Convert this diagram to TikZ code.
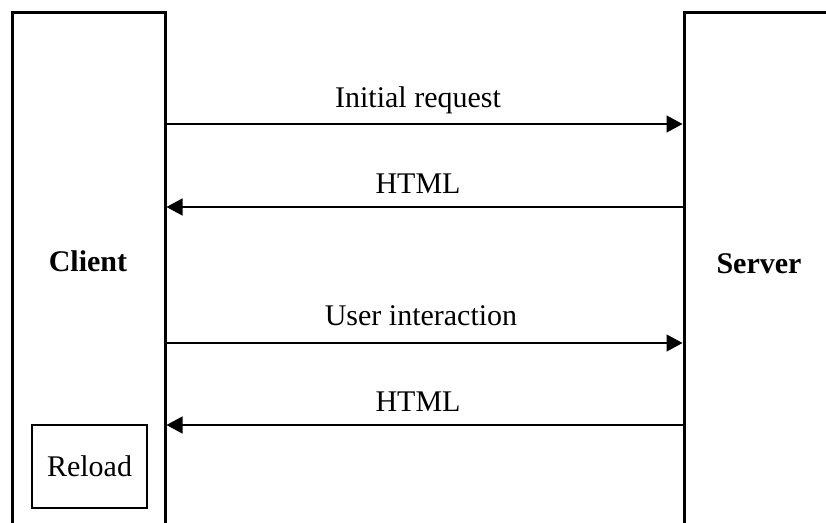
\documentclass[tikz,border=0pt]{standalone}
\usepackage{fontspec}
\setmainfont{Liberation Serif}
\usetikzlibrary{arrows.meta}
\begin{document}
\begin{tikzpicture}[x=1pt,y=1pt,
  lane/.style={draw=black,line width=3pt,rectangle,inner sep=0pt},
  txt/.style={font=\fontsize{30}{36}\selectfont,inner sep=0pt},
  btxt/.style={font=\fontsize{30}{36}\selectfont\bfseries,inner sep=0pt},
  msg/.style={line width=1.3pt,-{Triangle[length=16pt,width=17pt]}},
  reloadbox/.style={draw=black,line width=2.6pt,rectangle,inner sep=0pt,minimum width=115pt,minimum height=83pt,font=\fontsize{30}{36}\selectfont}]
\useasboundingbox (0,0) rectangle (826,-522);
\clip (0,0) rectangle (826,-522);
\node[lane,minimum width=153pt,minimum height=548pt] (client) at (88.5,-286) {};
\node[lane,minimum width=216pt,minimum height=548pt] (server) at (792,-286) {};
\node[btxt] (clientlbl) at (88,-261) {Client};
\node[btxt] (serverlbl) at (759,-264) {Server};
\node[reloadbox] (reload) at (89.5,-466.5) {Reload};
\coordinate (y1) at (0,-124);
\coordinate (y2) at (0,-207);
\coordinate (y3) at (0,-343);
\coordinate (y4) at (0,-425);
\draw[msg] (client.east |- y1) -- (server.west |- y1);
\draw[msg] (server.west |- y2) -- (client.east |- y2);
\draw[msg] (client.east |- y3) -- (server.west |- y3);
\draw[msg] (server.west |- y4) -- (client.east |- y4);
\node[txt,anchor=base] (l1) at (418,-107) {Initial request};
\node[txt,anchor=base] (l2) at (418,-193) {HTML};
\node[txt,anchor=base] (l3) at (421,-325) {User interaction};
\node[txt,anchor=base] (l4) at (418,-411) {HTML};
\end{tikzpicture}
\end{document}
